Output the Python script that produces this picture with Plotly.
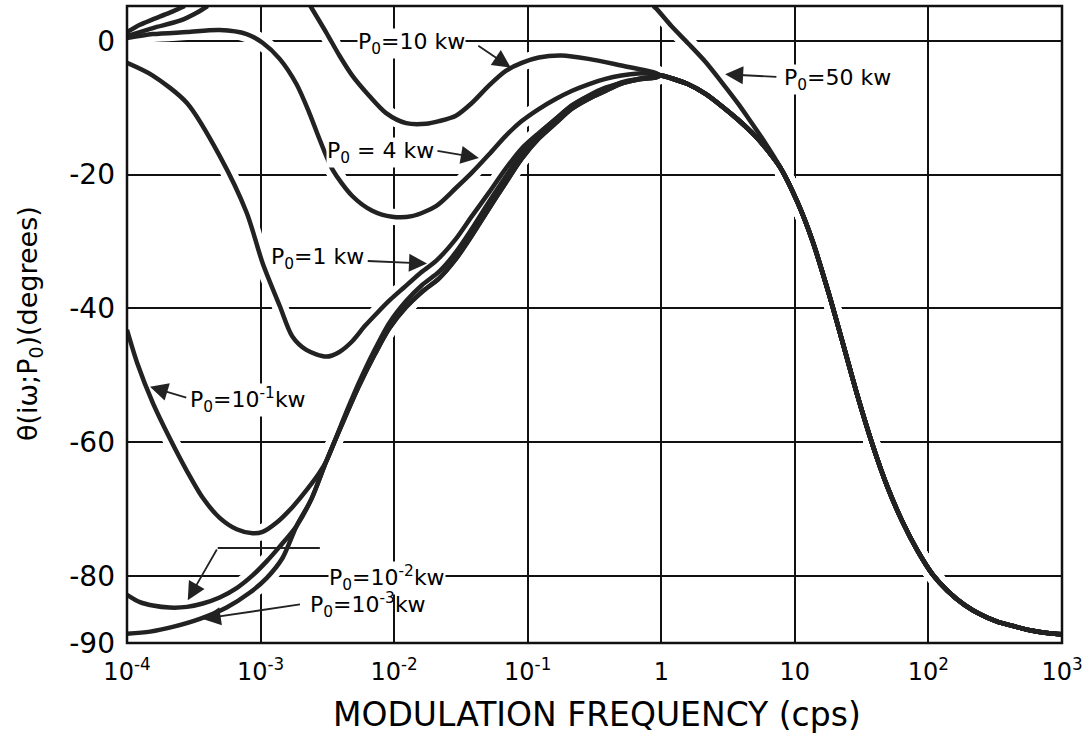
import plotly.graph_objects as go

# Phase angle theta(i*omega; P0) in degrees versus modulation frequency (cps)
# for several reactor power levels P0.

# High-frequency branch shared by all curves from 1e-3 kw to 10 kw
tail_freq = [1.00, 1.19, 1.59, 2.13, 2.81, 3.76, 5.03, 6.62, 7.87, 10.5, 13.6, 17.6,
             22.8, 29.5, 38.2, 49.4, 64.0, 82.8, 107, 139, 186, 244, 327, 438, 577,
             773, 1000]
tail_theta = [-5.2, -5.6, -6.5, -7.9, -9.7, -11.8, -14.2, -17.0, -19.1, -24.2, -30.0,
              -37.2, -45.1, -53.1, -60.4, -66.7, -71.9, -76.2, -79.7, -82.2, -84.3,
              -85.7, -86.8, -87.5, -88.1, -88.5, -88.7]

# P0 = 50 kw (low-frequency piece leaves the top of the grid, high piece re-enters)
f_50_low = [1.00e-4, 1.25e-4, 1.56e-4, 2.09e-4, 2.71e-4]
th_50_low = [1.3, 2.4, 3.2, 4.2, 5.2]
f_50_high = [0.871, 0.918, 1.19, 1.59, 2.13, 2.81, 3.76, 4.46, 5.97]
th_50_high = [5.2, 4.8, 2.2, -0.4, -3.1, -6.1, -9.4, -11.5, -15.2]

# P0 = 10 kw
f_10_low = [1.00e-4, 1.56e-4, 2.49e-4, 3.33e-4, 4.02e-4]
th_10_low = [0.7, 1.9, 3.0, 4.2, 5.2]
f_10_high = [2.36e-3, 3.11e-3, 3.89e-3, 4.86e-3, 6.50e-3, 8.71e-3, 1.23e-2, 1.73e-2,
             2.17e-2, 2.90e-2, 3.82e-2, 5.12e-2, 6.85e-2, 9.02e-2, 0.121, 0.179,
             0.285, 0.502, 0.902]
th_10_high = [5.2, 1.2, -2.2, -5.2, -8.2, -10.8, -12.3, -12.4, -12.0, -11.2, -9.3,
              -6.7, -4.5, -3.3, -2.5, -2.2, -2.7, -3.7, -4.8]

# P0 = 4 kw
f_4 = [1.00e-4, 1.56e-4, 2.81e-4, 4.94e-4, 7.87e-4, 1.035e-3, 1.39e-3, 1.86e-3,
       2.32e-3, 2.75e-3, 3.45e-3, 4.86e-3, 6.85e-3, 9.66e-3, 1.36e-2, 2.06e-2,
       2.90e-2, 3.82e-2, 5.12e-2, 6.85e-2, 9.02e-2, 0.121, 0.162, 0.213, 0.285,
       0.382, 0.502, 0.673, 0.902]
th_4 = [0.4, 1.0, 1.3, 1.6, 1.0, -0.3, -2.7, -6.5, -10.8, -14.6, -19.2, -23.2, -25.4,
        -26.3, -26.2, -24.7, -22.0, -19.7, -17.0, -14.2, -12.0, -10.2, -8.7, -7.5,
        -6.5, -5.7, -5.2, -4.9, -4.9]

# P0 = 1 kw
f_1 = [1.00e-4, 1.56e-4, 2.81e-4, 4.94e-4, 7.87e-4, 1.035e-3, 1.39e-3, 1.73e-3,
       2.20e-3, 3.11e-3, 3.89e-3, 4.86e-3, 6.05e-3, 7.52e-3, 9.35e-3, 1.18e-2,
       1.55e-2, 2.06e-2, 2.90e-2, 3.82e-2, 5.12e-2, 6.85e-2, 9.02e-2, 0.121, 0.162,
       0.213, 0.285, 0.382, 0.502, 0.673, 0.902]
th_1 = [-3.3, -5.2, -9.3, -17.2, -25.7, -33.2, -39.6, -44.2, -46.2, -47.2, -46.5,
        -44.9, -42.6, -40.6, -38.7, -36.9, -34.8, -32.9, -29.6, -26.2, -22.7, -19.1,
        -16.1, -13.8, -11.7, -9.7, -8.2, -7.0, -6.3, -5.7, -5.3]

# P0 = 1e-1 kw
f_01 = [1.00e-4, 1.19e-4, 1.56e-4, 2.09e-4, 2.81e-4, 3.69e-4, 4.94e-4, 6.62e-4,
        8.71e-4, 1.035e-3, 1.32e-3, 1.73e-3, 2.20e-3, 2.75e-3, 3.11e-3, 4.24e-3,
        5.48e-3, 7.10e-3, 9.18e-3, 1.23e-2, 1.62e-2, 2.17e-2, 2.90e-2, 3.82e-2,
        5.12e-2, 6.85e-2, 9.02e-2, 0.121, 0.162, 0.213, 0.285, 0.382, 0.502, 0.673,
        0.902]
th_01 = [-43.2, -48.1, -54.1, -59.4, -64.3, -68.3, -71.3, -73.0, -73.6, -73.4, -72.0,
         -69.7, -67.2, -64.6, -62.8, -56.2, -51.0, -46.3, -42.2, -38.9, -36.5, -34.5,
         -31.6, -28.1, -24.1, -20.3, -16.8, -13.9, -11.7, -9.7, -8.3, -7.2, -6.2,
         -5.7, -5.4]

# Rising branch shared by the 1e-2 kw and 1e-3 kw curves
rise_freq = [1.86e-3, 2.40e-3, 3.11e-3, 4.24e-3, 5.48e-3, 7.10e-3, 9.18e-3, 1.23e-2,
             1.62e-2, 2.17e-2, 2.90e-2, 3.82e-2, 5.12e-2, 6.85e-2, 9.02e-2, 0.121,
             0.162, 0.213, 0.285, 0.382, 0.502, 0.673, 0.902]
rise_theta = [-72.5, -68.5, -62.8, -56.5, -51.5, -47.0, -43.0, -39.8, -37.5, -35.5,
              -32.6, -29.1, -25.1, -21.2, -17.6, -14.6, -12.3, -10.2, -8.7, -7.5,
              -6.4, -5.8, -5.5]

# P0 = 1e-2 kw
f_001 = [1.00e-4, 1.25e-4, 1.56e-4, 2.09e-4, 2.81e-4, 3.69e-4, 4.94e-4, 6.62e-4,
         8.71e-4, 1.11e-3, 1.39e-3]
th_001 = [-82.8, -83.9, -84.4, -84.7, -84.6, -84.1, -83.2, -81.8, -79.9, -77.8, -75.6]

# P0 = 1e-3 kw
f_0001 = [1.00e-4, 1.49e-4, 2.20e-4, 3.51e-4, 5.57e-4, 8.28e-4, 1.11e-3, 1.46e-3]
th_0001 = [-88.6, -88.3, -87.6, -86.4, -84.7, -82.5, -80.3, -77.3]

# Axis ticks
x_tickvals = [1e-4, 1e-3, 1e-2, 1e-1, 1, 10, 100, 1000]
x_ticktext = ["10<sup>-4</sup>", "10<sup>-3</sup>", "10<sup>-2</sup>", "10<sup>-1</sup>",
              "1", "10", "10<sup>2</sup>", "10<sup>3</sup>"]
y_tickvals = [0, -20, -40, -60, -80, -90]
y_ticktext = ["0", "-20", "-40", "-60", "-80", "-90"]

curves = [
    (f_50_low, th_50_low),
    (f_50_high + tail_freq[8:], th_50_high + tail_theta[8:]),
    (f_10_low, th_10_low),
    (f_10_high + tail_freq, th_10_high + tail_theta),
    (f_4 + tail_freq, th_4 + tail_theta),
    (f_1 + tail_freq, th_1 + tail_theta),
    (f_01 + tail_freq, th_01 + tail_theta),
    (f_001 + rise_freq + tail_freq, th_001 + rise_theta + tail_theta),
    (f_0001 + rise_freq + tail_freq, th_0001 + rise_theta + tail_theta),
]

ink = "#222222"
fig = go.Figure()

# white casing under every curve breaks the grid where a curve crosses it
for fx, fy in curves:
    fig.add_trace(go.Scatter(x=fx, y=fy, mode="lines",
                             line=dict(color="white", width=16, shape="spline",
                                       smoothing=0.8),
                             hoverinfo="skip", showlegend=False))
for fx, fy in curves:
    fig.add_trace(go.Scatter(x=fx, y=fy, mode="lines",
                             line=dict(color=ink, width=4.5, shape="spline",
                                       smoothing=0.8),
                             showlegend=False))

label_font = dict(family="DejaVu Sans", size=22, color="black")

# (x in log10 cps, y in degrees, text, white backing)
labels = [
    (-1.873, -0.45, "P<sub>0</sub>=10 kw", True),
    (-2.104, -16.7, "P<sub>0</sub> = 4 kw", True),
    (-2.575, -32.6, "P<sub>0</sub>=1 kw", True),
    (1.321, -5.8, "P<sub>0</sub>=50 kw", True),
    (-3.097, -53.7, "P<sub>0</sub>=10<sup>-1</sup>kw", True),
    (-2.052, -80.3, "P<sub>0</sub>=10<sup>-2</sup>kw", True),
    (-2.194, -84.3, "P<sub>0</sub>=10<sup>-3</sup>kw", False),
]
for lx, ly, txt, backed in labels:
    fig.add_annotation(x=lx, y=ly, xref="x", yref="y", text=txt, showarrow=False,
                       font=label_font, bgcolor="white" if backed else None,
                       borderpad=0)

# pointer arrows: (tail x, tail y, head x, head y, head style) in axis units
pointers = [
    (-1.381, -0.6, -1.127, -4.0, 2),
    (-1.687, -16.4, -1.366, -17.5, 2),
    (-2.209, -32.9, -1.754, -33.3, 2),
    (0.873, -5.4, 0.478, -5.0, 2),
    (-3.545, -53.4, -3.828, -51.7, 2),
    (-2.545, -75.8, -3.321, -75.8, 0),
    (-3.321, -75.8, -3.545, -83.6, 2),
    (-2.694, -84.2, -3.433, -86.4, 2),
]
for tx, ty, hx, hy, head in pointers:
    fig.add_annotation(x=hx, y=hy, ax=tx, ay=ty, xref="x", yref="y", axref="x",
                       ayref="y", text="", showarrow=True, arrowhead=head,
                       arrowsize=2.0, arrowwidth=1.8, arrowcolor=ink,
                       standoff=0, startstandoff=0)

# plot frame on top of everything
fig.add_shape(type="rect", xref="paper", yref="paper", x0=0, x1=1, y0=0, y1=1,
              line=dict(color="#111111", width=2.5), layer="above")

# axis titles
fig.add_annotation(x=0.503, y=-0.1115, xref="paper", yref="paper",
                   text="MODULATION FREQUENCY (cps)", showarrow=False,
                   font=dict(family="DejaVu Sans", size=33, color="black"),
                   xanchor="center", yanchor="middle")
fig.add_annotation(x=-0.1035, y=0.501, xref="paper", yref="paper",
                   text="θ(iω;P<sub>0</sub>)(degrees)", showarrow=False, textangle=-90,
                   font=dict(family="DejaVu Sans", size=27, color="black"),
                   xanchor="center", yanchor="middle")

fig.update_xaxes(type="log", range=[-4, 3], tickvals=x_tickvals, ticktext=x_ticktext,
                 showgrid=True, gridcolor="#111111", gridwidth=1.8, zeroline=False,
                 showline=False, layer="below traces",
                 ticks="", ticklabelstandoff=12,
                 tickfont=dict(family="DejaVu Sans", size=24, color="black"))
fig.update_yaxes(range=[-90, 5.2], tickvals=y_tickvals, ticktext=y_ticktext,
                 showgrid=True, gridcolor="#111111", gridwidth=1.8, zeroline=False,
                 showline=False, layer="below traces",
                 ticks="", ticklabelstandoff=11,
                 tickfont=dict(family="DejaVu Sans", size=28, color="black"))

fig.update_layout(width=1089, height=744, margin=dict(l=127, r=25, t=6, b=101),
                  paper_bgcolor="white", plot_bgcolor="white", showlegend=False,
                  font=dict(family="DejaVu Sans", color="black"))

fig.write_html("out.html")
